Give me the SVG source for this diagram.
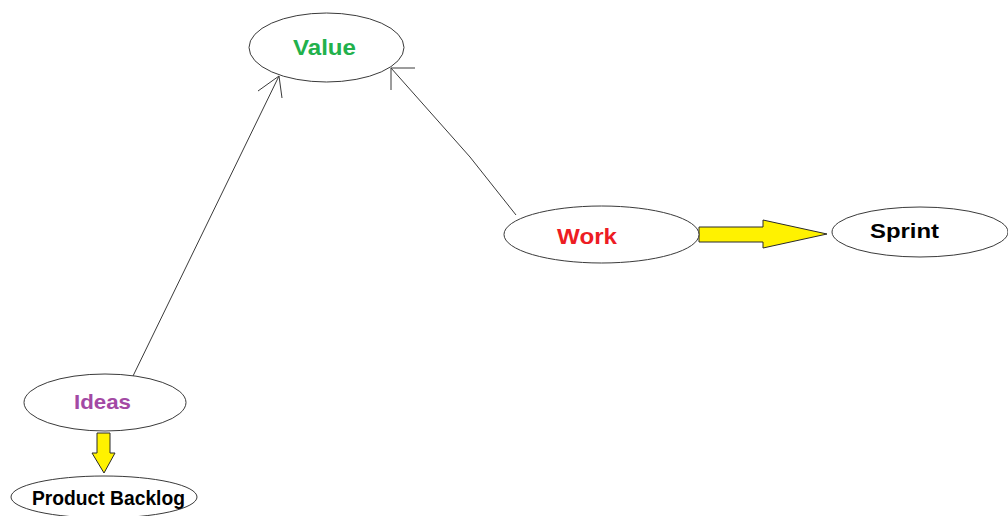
<svg xmlns="http://www.w3.org/2000/svg" width="1008" height="516" viewBox="0 0 1008 516">
  <style>
    .node { fill: #ffffff; stroke: #3a3a3a; stroke-width: 1; }
    .label { font-family: "Liberation Sans", Arial, sans-serif; font-weight: bold; text-anchor: start; }
    .link { fill: none; stroke: #3a3a3a; stroke-width: 1; }
    .flow { fill: #fff200; stroke: #2a2a2a; stroke-width: 1; stroke-linejoin: miter; }
  </style>
  <rect width="1008" height="516" fill="#ffffff"/>

  <!-- connectors -->
  <g id="connectors">
    <!-- Ideas -> Value -->
    <path class="link" d="M133 376 L279 76"/>
    <path class="link" d="M258 91 L279 76 L282 98"/>
    <!-- Work -> Value -->
    <path class="link" d="M516 215 L470 157 L391 68"/>
    <path class="link" d="M415 68 L391 68 L391 90"/>
    <!-- Work -> Sprint (block arrow) -->
    <polygon class="flow" points="699,227 763,227 763,220 827,234 763,248 763,242 699,242"/>
    <!-- Ideas -> Product Backlog (block arrow) -->
    <polygon class="flow" points="97,433 110,433 110,453 115,453 104,473 92,453 97,453"/>
  </g>

  <g id="value">
    <ellipse class="node" cx="326.5" cy="47.5" rx="77.5" ry="34.5"/>
    <text class="label" x="293" y="55" font-size="22" fill="#22b14c" textLength="63" lengthAdjust="spacingAndGlyphs">Value</text>
  </g>

  <g id="work">
    <ellipse class="node" cx="601.5" cy="234.5" rx="97.5" ry="28.5"/>
    <text class="label" x="557" y="244" font-size="22" fill="#ed1c24" textLength="60" lengthAdjust="spacingAndGlyphs">Work</text>
  </g>

  <g id="sprint">
    <ellipse class="node" cx="920" cy="232" rx="88" ry="25"/>
    <text class="label" x="870" y="238" font-size="21" fill="#000000" textLength="69" lengthAdjust="spacingAndGlyphs">Sprint</text>
  </g>

  <g id="ideas">
    <ellipse class="node" cx="105" cy="402.5" rx="81" ry="28.5"/>
    <text class="label" x="74" y="409" font-size="21" fill="#a349a4" textLength="57" lengthAdjust="spacingAndGlyphs">Ideas</text>
  </g>

  <g id="product-backlog">
    <ellipse class="node" cx="104" cy="497" rx="93" ry="21"/>
    <text class="label" x="32" y="505" font-size="19.5" fill="#000000" textLength="153" lengthAdjust="spacingAndGlyphs">Product Backlog</text>
  </g>
</svg>
